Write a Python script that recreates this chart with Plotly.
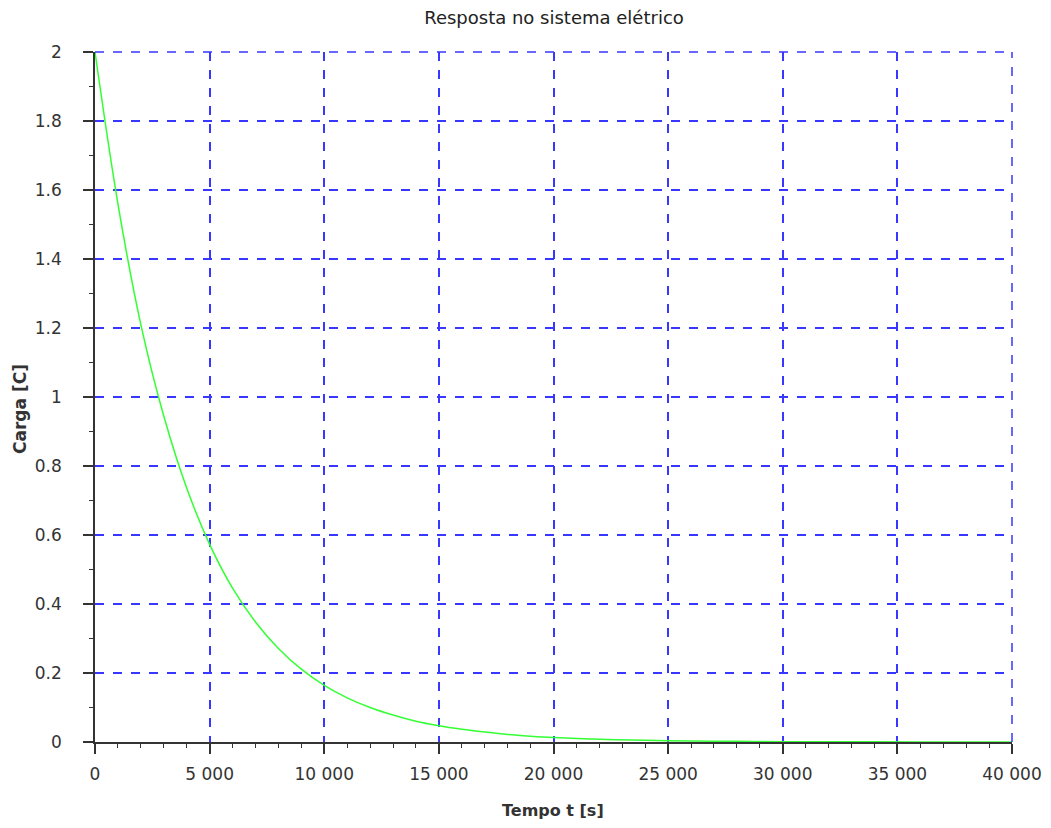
import plotly.graph_objects as go

# Time [s] and charge [C] values
tempo = [0, 1000, 2000, 3000, 4000, 5000, 6000, 7000, 8000, 9000, 10000,
         11000, 12000, 13000, 14000, 15000, 16000, 17000, 18000, 19000, 20000,
         22000, 24000, 26000, 28000, 30000, 33000, 36000, 40000]
carga = [2.00, 1.56, 1.21, 0.945, 0.736, 0.573, 0.446, 0.348, 0.271, 0.211, 0.164,
         0.128, 0.100, 0.078, 0.060, 0.047, 0.037, 0.029, 0.022, 0.017, 0.013,
         0.008, 0.005, 0.003, 0.002, 0.001, 0.0005, 0.0002, 0.0001]

x_ticks = [0, 5000, 10000, 15000, 20000, 25000, 30000, 35000, 40000]
y_ticks = [0, 0.2, 0.4, 0.6, 0.8, 1.0, 1.2, 1.4, 1.6, 1.8, 2.0]

W, H = 1035, 812
L, R, T, B = 87, 31, 44, 78
PW, PH = W - L - R, H - T - B

fig = go.Figure()
fig.add_trace(go.Scatter(x=tempo, y=carga, mode="lines",
                         line=dict(color="#33ff33", width=1.5, shape="spline"),
                         showlegend=False, cliponaxis=False))

font = "DejaVu Sans, Verdana, sans-serif"
gridc = "rgb(55,55,255)"
grid = dict(showgrid=True, gridcolor=gridc, gridwidth=1.5, griddash="dash")
axc = "#333"

# dashed border on top and right (grid lines at range ends)
fig.add_shape(type="line", xref="paper", yref="paper", x0=0, x1=1, y0=1, y1=1,
              line=dict(color=gridc, width=1.5, dash="dash"))
fig.add_shape(type="line", xref="paper", yref="paper", x0=1, x1=1, y0=0, y1=1,
              line=dict(color=gridc, width=1.5, dash="dash"))

fig.add_annotation(text="<b>Tempo t [s]</b>", xref="paper", yref="paper",
                   x=(553 - 95) / PW, y=-(810 - 8 - (T + PH)) / PH,
                   xanchor="center", yanchor="middle", showarrow=False,
                   font=dict(family=font, size=16, color="#333"))
fig.add_annotation(text="<b>Carga [C]</b>", xref="paper", yref="paper",
                   x=(20 - 95) / PW, y=(742 - 409) / PH, textangle=-90,
                   xanchor="center", yanchor="middle", showarrow=False,
                   font=dict(family=font, size=17, color="#333"))

fig.update_layout(
    width=W, height=H,
    margin=dict(l=L, r=R, t=T, b=B, autoexpand=False),
    paper_bgcolor="white", plot_bgcolor="white",
    separators=". ",
    font=dict(family=font, size=17, color="#333"),
    title=dict(text="Resposta no sistema elétrico", x=(554 - 8) / W, xanchor="center",
               y=1 - 10 / H, yanchor="middle", font=dict(size=18, color="#222"),
               automargin=False),
    xaxis=dict(range=[0, 40000], tickvals=x_ticks, tickformat=",d",
               showline=True, linecolor=axc, linewidth=1.5,
               ticks="outside", ticklen=10, tickwidth=1.5, tickcolor=axc,
               minor=dict(dtick=1000, ticks="outside", ticklen=4, tickcolor=axc, tickwidth=1.2),
               zeroline=False, ticklabelstandoff=6, automargin=False,
               **grid),
    yaxis=dict(range=[0, 2], tickvals=y_ticks, tickformat="~g",
               showline=True, linecolor=axc, linewidth=1.5,
               ticks="outside", ticklen=10, tickwidth=1.5, tickcolor=axc,
               minor=dict(dtick=0.1, ticks="outside", ticklen=4, tickcolor=axc, tickwidth=1.2),
               zeroline=False, ticklabelstandoff=18, automargin=False,
               **grid),
)

fig.write_html("out.html")
